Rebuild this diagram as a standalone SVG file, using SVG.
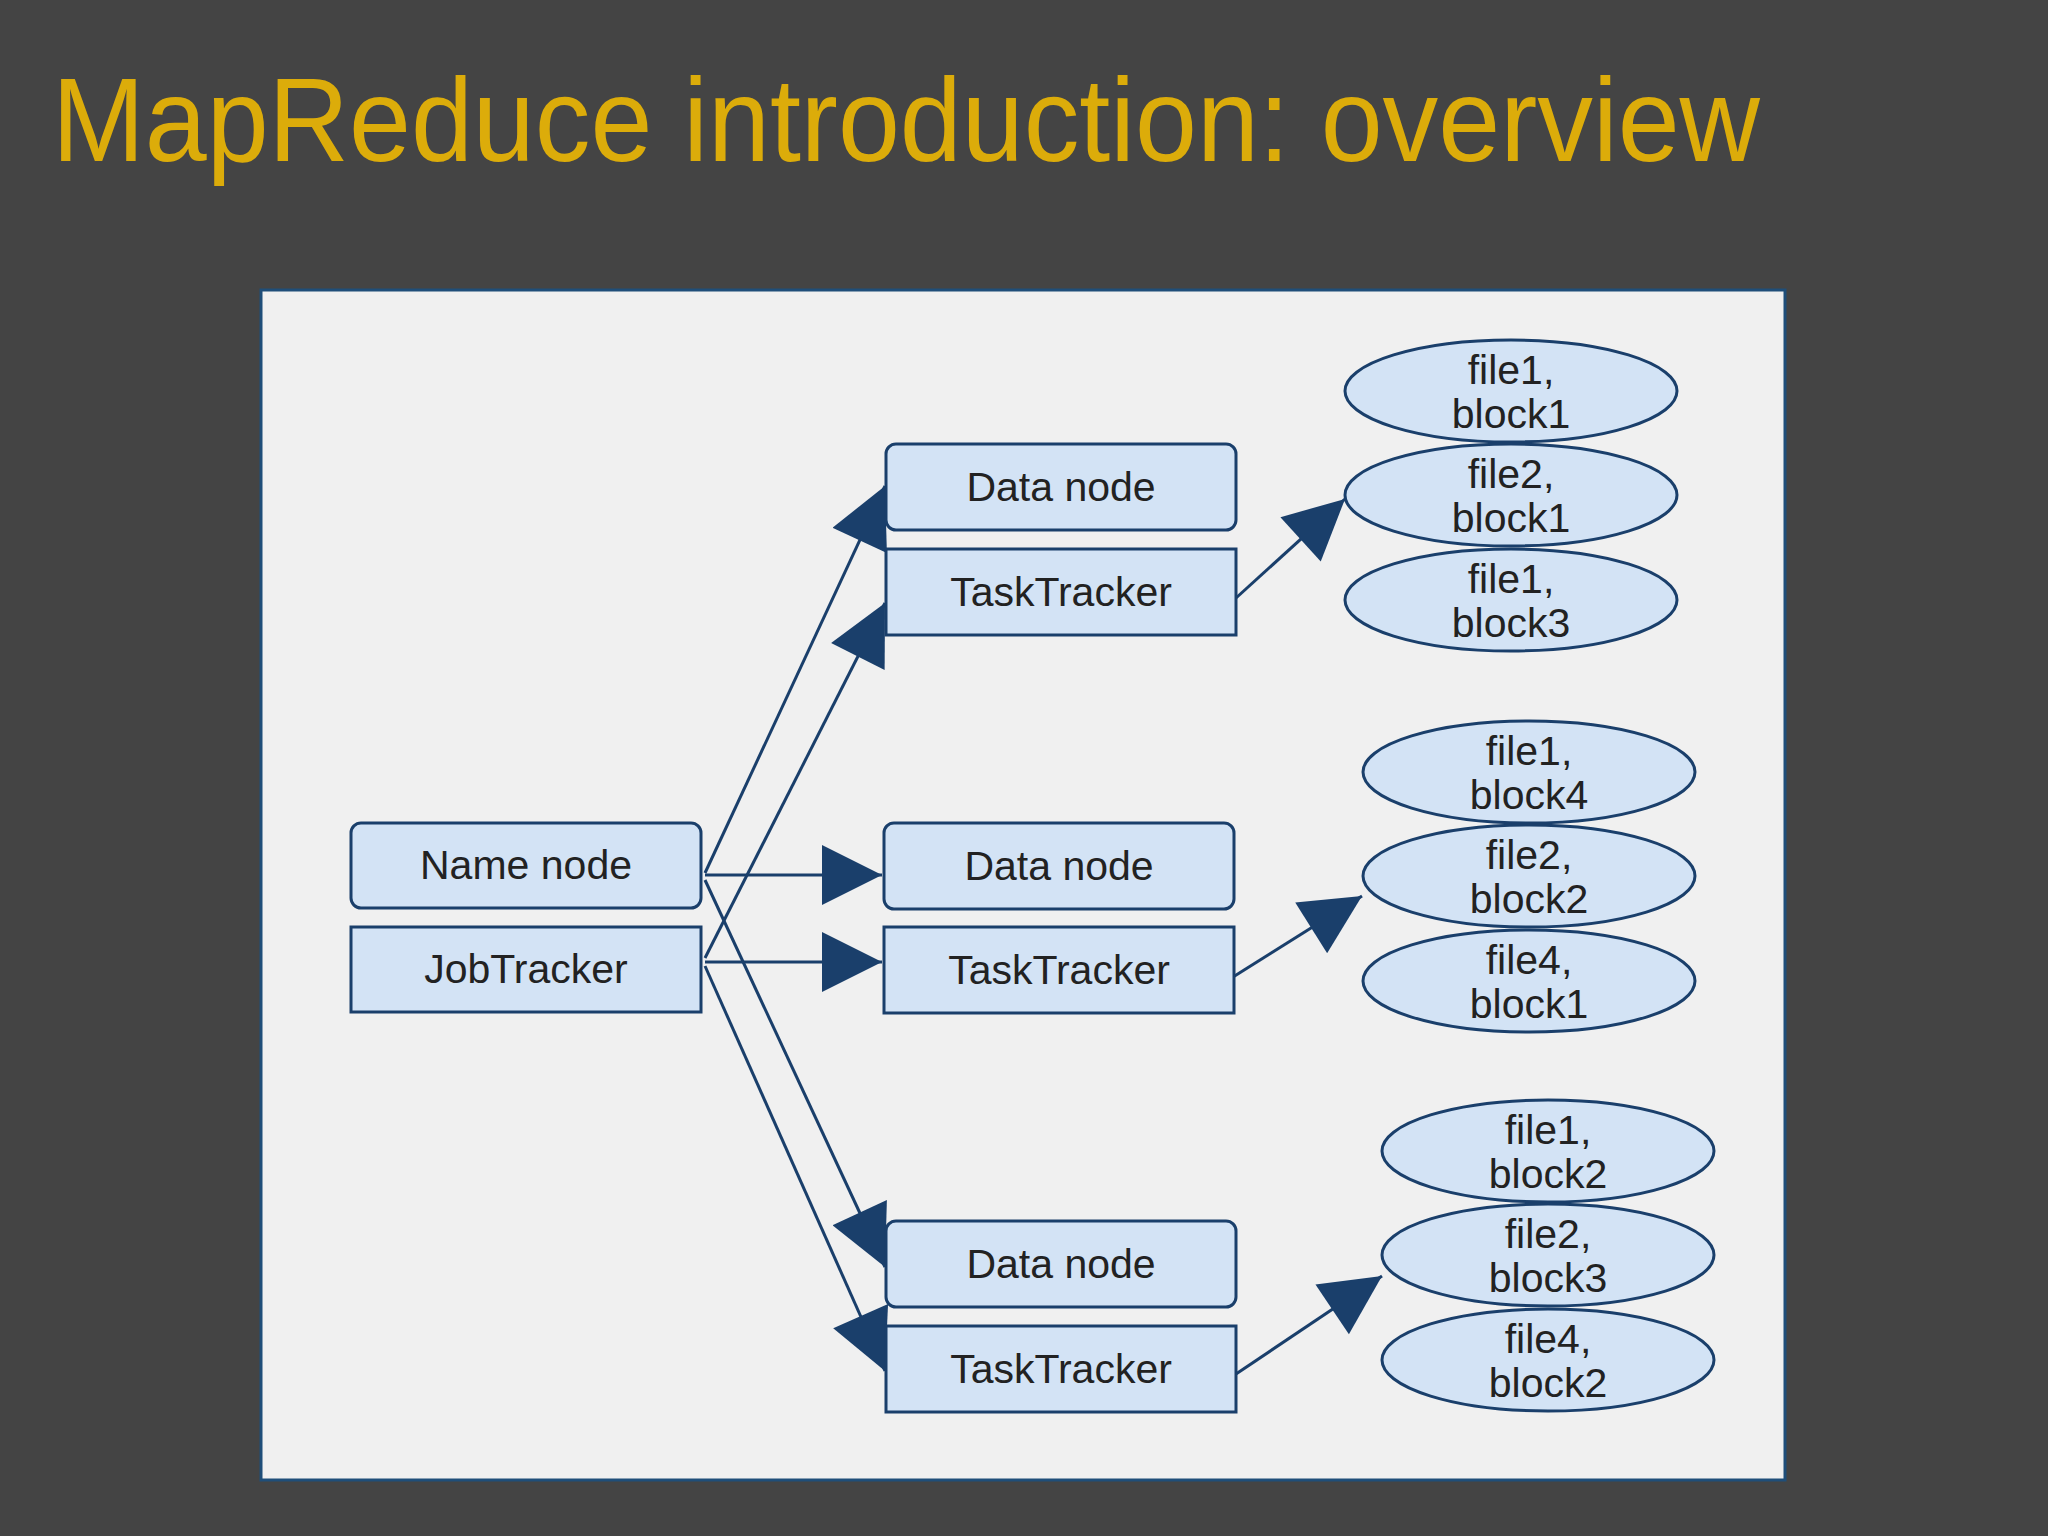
<svg xmlns="http://www.w3.org/2000/svg" width="2048" height="1536" viewBox="0 0 2048 1536">
<style>
.b{fill:#d3e3f5;stroke:#1a3f6b;stroke-width:3}
.t{font-family:"Liberation Sans",Arial,sans-serif;font-size:41px;fill:#222;text-anchor:middle}
.e{fill:#d3e3f5;stroke:#1a3f6b;stroke-width:3}
.c line{stroke:#1a3f6b;stroke-width:3;marker-end:url(#a)}
</style>
<defs><marker id="a" viewBox="0 0 10 10" refX="10" refY="5" markerWidth="9" markerHeight="9" markerUnits="userSpaceOnUse" orient="auto"><path d="M0,0L10,5L0,10z" fill="#1a3f6b"/></marker>
<marker id="a2" viewBox="0 0 10 10" refX="10" refY="5" markerWidth="28" markerHeight="20" orient="auto"><path d="M0,0L10,5L0,10z" fill="#1a3f6b"/></marker></defs>
<rect width="2048" height="1536" fill="#444444"/>
<text x="52" y="161" font-family="Liberation Sans,Arial,sans-serif" font-size="118" fill="#dcac0a" textLength="1708" lengthAdjust="spacingAndGlyphs">MapReduce introduction: overview</text>
<rect x="261" y="290" width="1524" height="1190" fill="#f0f0f0" stroke="#1f4e79" stroke-width="3"/>
<g class="c">
<line x1="705" y1="873" x2="885" y2="486" style="marker-end:url(#a2)"/>
<line x1="705" y1="875" x2="882" y2="875" style="marker-end:url(#a2)"/>
<line x1="705" y1="880" x2="885" y2="1267" style="marker-end:url(#a2)"/>
<line x1="705" y1="958" x2="885" y2="603" style="marker-end:url(#a2)"/>
<line x1="705" y1="962" x2="882" y2="962" style="marker-end:url(#a2)"/>
<line x1="705" y1="966" x2="885" y2="1371" style="marker-end:url(#a2)"/>
<line x1="1236" y1="598" x2="1345" y2="499" style="marker-end:url(#a2)"/>
<line x1="1233" y1="977" x2="1362" y2="896" style="marker-end:url(#a2)"/>
<line x1="1236" y1="1374" x2="1382" y2="1276" style="marker-end:url(#a2)"/>
</g>
<g id="namenode"><rect class="b" x="351" y="823" width="350" height="85" rx="10"/><text class="t" x="526" y="879">Name node</text></g>
<g id="jobtracker"><rect class="b" x="351" y="927" width="350" height="85"/><text class="t" x="526" y="983">JobTracker</text></g>
<g id="dn1"><rect class="b" x="886" y="444" width="350" height="86" rx="10"/><text class="t" x="1061" y="501">Data node</text></g>
<g id="tt1"><rect class="b" x="886" y="549" width="350" height="86"/><text class="t" x="1061" y="606">TaskTracker</text></g>
<g id="dn2"><rect class="b" x="884" y="823" width="350" height="86" rx="10"/><text class="t" x="1059" y="880">Data node</text></g>
<g id="tt2"><rect class="b" x="884" y="927" width="350" height="86"/><text class="t" x="1059" y="984">TaskTracker</text></g>
<g id="dn3"><rect class="b" x="886" y="1221" width="350" height="86" rx="10"/><text class="t" x="1061" y="1278">Data node</text></g>
<g id="tt3"><rect class="b" x="886" y="1326" width="350" height="86"/><text class="t" x="1061" y="1383">TaskTracker</text></g>
<g id="e1"><ellipse class="e" cx="1511" cy="391" rx="166" ry="51"/><text class="t" x="1511" y="384">file1,</text><text class="t" x="1511" y="428">block1</text></g>
<g id="e2"><ellipse class="e" cx="1511" cy="495" rx="166" ry="51"/><text class="t" x="1511" y="488">file2,</text><text class="t" x="1511" y="532">block1</text></g>
<g id="e3"><ellipse class="e" cx="1511" cy="600" rx="166" ry="51"/><text class="t" x="1511" y="593">file1,</text><text class="t" x="1511" y="637">block3</text></g>
<g id="e4"><ellipse class="e" cx="1529" cy="772" rx="166" ry="51"/><text class="t" x="1529" y="765">file1,</text><text class="t" x="1529" y="809">block4</text></g>
<g id="e5"><ellipse class="e" cx="1529" cy="876" rx="166" ry="51"/><text class="t" x="1529" y="869">file2,</text><text class="t" x="1529" y="913">block2</text></g>
<g id="e6"><ellipse class="e" cx="1529" cy="981" rx="166" ry="51"/><text class="t" x="1529" y="974">file4,</text><text class="t" x="1529" y="1018">block1</text></g>
<g id="e7"><ellipse class="e" cx="1548" cy="1151" rx="166" ry="51"/><text class="t" x="1548" y="1144">file1,</text><text class="t" x="1548" y="1188">block2</text></g>
<g id="e8"><ellipse class="e" cx="1548" cy="1255" rx="166" ry="51"/><text class="t" x="1548" y="1248">file2,</text><text class="t" x="1548" y="1292">block3</text></g>
<g id="e9"><ellipse class="e" cx="1548" cy="1360" rx="166" ry="51"/><text class="t" x="1548" y="1353">file4,</text><text class="t" x="1548" y="1397">block2</text></g>
</svg>
